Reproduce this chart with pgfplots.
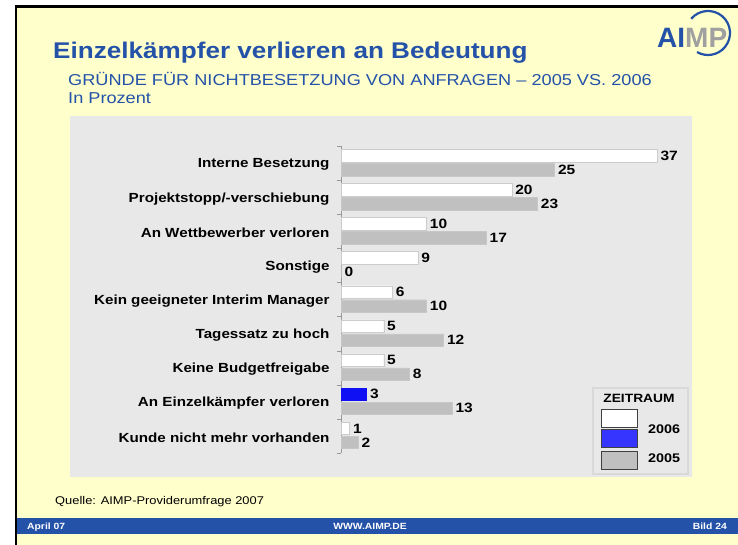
\documentclass[border=0pt]{standalone}
\usepackage{fontspec}
\setmainfont{Liberation Sans}[FakeStretch=1.15]
\newfontfamily\logofont{Liberation Sans}
\usepackage{pgfplots}
\usepackage{pgfplotstable}
\pgfplotsset{compat=1.18}
\definecolor{slideyellow}{HTML}{FFFFCC}
\definecolor{titleblue}{HTML}{2452A8}
\definecolor{panelgray}{HTML}{E8E8E8}
\definecolor{bargray}{HTML}{C0C0C0}
\definecolor{barblue}{HTML}{1010F5}
\definecolor{legblue}{HTML}{3535FF}
\definecolor{logogray}{HTML}{A0A0A0}

\pgfplotstableread{
idx v2006 v2005
0 37 25
1 20 23
2 10 17
3 9 0
4 6 10
5 5 12
6 5 8
7 3 13
8 1 2
}\datatable

\begin{document}
\begin{tikzpicture}[x=1bp,y=1bp]
\path[use as bounding box] (0,0) rectangle (738,545);
\fill[white] (0,0) rectangle (738,545);
\fill[slideyellow] (17,0) rectangle (738,537);
\fill[black] (15,0) rectangle (17,540);
\fill[black] (15,537) rectangle (738,540);
% titles
\node[anchor=base west, inner sep=0, text=titleblue, font=\fontsize{22.7bp}{27bp}\selectfont\bfseries] at (53,486) {Einzelkämpfer verlieren an Bedeutung};
\node[anchor=base west, inner sep=0, text=titleblue, font=\fontsize{15.8bp}{18bp}\selectfont] at (68,459) {GRÜNDE FÜR NICHTBESETZUNG VON ANFRAGEN – 2005 VS. 2006};
\node[anchor=base west, inner sep=0, text=titleblue, font=\fontsize{15.8bp}{18bp}\selectfont] at (68,441) {In Prozent};
% logo
\node[anchor=base west, inner sep=0, font=\logofont\fontsize{28bp}{30bp}\selectfont\bfseries] at (657,497) {\textcolor{titleblue}{AI}\textcolor{logogray}{MP}};
\draw[titleblue, line width=2.2bp] (708,512) ++(140:22) arc[start angle=140, end angle=-120, radius=22];
% panel
\fill[panelgray] (70,68) rectangle (692,429);
% legend
\draw[draw=black!15, line width=2bp, fill=panelgray] (593,71) rectangle (688,157);
\node[anchor=base, inner sep=0, font=\fontsize{12bp}{14bp}\selectfont\bfseries] at (639,142) {ZEITRAUM};
\draw[draw=black!75, fill=white] (601,118) rectangle (637,136);
\draw[draw=black!75, fill=legblue] (601,98) rectangle (637,116);
\draw[draw=black!75, fill=bargray] (601,76) rectangle (637,94);
\node[anchor=base west, inner sep=0, font=\fontsize{12.5bp}{14bp}\selectfont\bfseries] at (648,111) {2006};
\node[anchor=base west, inner sep=0, font=\fontsize{12.5bp}{14bp}\selectfont\bfseries] at (648,82) {2005};
% chart
\begin{axis}[
  at={(341bp,399bp)}, anchor=north west,
  width=341.6bp, height=307bp, scale only axis,
  xmin=0, xmax=40, ymin=-0.5, ymax=8.5, y dir=reverse,
  hide x axis,
  axis y line*=left,
  y axis line style={draw=black!40},
  ytick={0,...,8},
  yticklabels={Interne Besetzung, Projektstopp/-verschiebung, An Wettbewerber verloren, Sonstige, Kein geeigneter Interim Manager, Tagessatz zu hoch, Keine Budgetfreigabe, An Einzelkämpfer verloren, Kunde nicht mehr vorhanden},
  major tick length=0pt,
  minor ytick={-0.5,0.5,...,8.5},
  minor tick length=4bp,
  tick align=outside,
  tick style={draw=black!40},
  yticklabel style={font=\fontsize{13.2bp}{16bp}\selectfont\bfseries, xshift=-8bp, yshift=-1.5bp},
  xbar, bar width=12.5bp,
  point meta=x,
  nodes near coords style={font=\fontsize{13.5bp}{16bp}\selectfont\bfseries, anchor=west, text=black},
  /pgf/number format/assume math mode=true,
  clip=false,
]
\addplot[fill=white, draw=black!20, bar shift=7.5bp, nodes near coords] table[x=v2006, y=idx] {\datatable};
\addplot[fill=bargray, draw=black!22, bar shift=-6.5bp, nodes near coords] table[x=v2005, y=idx] {\datatable};
\addplot[fill=barblue, draw=barblue, bar shift=7.5bp] coordinates {(3,7)};
\end{axis}
% footer
\node[anchor=base west, inner sep=0, font=\fontsize{11.2bp}{13bp}\selectfont] at (55,40) {Quelle: AIMP-Providerumfrage 2007};
\fill[titleblue] (17,11) rectangle (738,27);
\node[anchor=base west, inner sep=0, text=white, font=\fontsize{9bp}{11bp}\selectfont\bfseries] at (27,15) {April 07};
\node[anchor=base, inner sep=0, text=white, font=\fontsize{9bp}{11bp}\selectfont\bfseries] at (370,15) {WWW.AIMP.DE};
\node[anchor=base east, inner sep=0, text=white, font=\fontsize{9bp}{11bp}\selectfont\bfseries] at (727,15) {Bild 24};
\end{tikzpicture}
\end{document}
